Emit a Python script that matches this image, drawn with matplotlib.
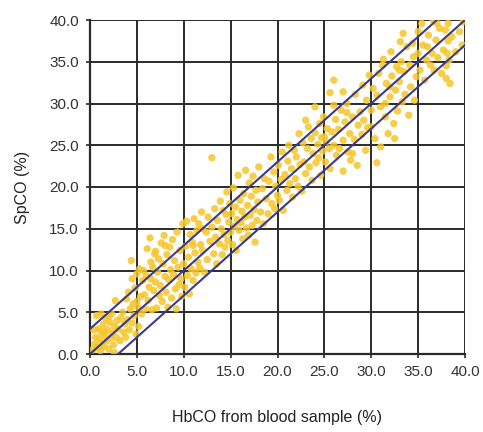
import matplotlib
matplotlib.use("Agg")
import matplotlib.pyplot as plt
import numpy as np

plt.rcParams['font.family'] = ['Liberation Sans', 'DejaVu Sans']

hbco = [
 0.3,0.5,0.6,0.8,0.9,1.0,1.1,1.2,1.3,1.4,1.5,1.6,1.7,1.8,1.9,2.0,2.1,2.2,2.3,2.4,2.5,2.6,2.7,2.8,2.9,3.0,0.7,1.2,2.0,1.5,0.4,2.6,
 3.2,3.3,3.5,3.6,3.7,3.9,4.0,4.1,4.2,4.3,4.4,4.5,4.6,4.7,4.8,4.9,5.0,5.1,5.2,5.3,5.4,5.5,5.6,5.7,5.8,5.9,6.0,3.8,4.5,5.0,
 6.1,6.2,6.3,6.4,6.5,6.6,6.7,6.8,6.9,7.0,7.1,7.2,7.3,7.4,7.5,7.6,7.7,7.8,7.9,8.0,8.1,8.2,8.3,8.4,8.5,8.6,8.7,8.8,8.9,9.0,9.1,9.2,9.3,9.4,9.5,9.6,9.7,9.8,9.9,10.0,6.5,7.0,8.0,
 10.1,10.2,10.3,10.4,10.5,10.6,10.7,10.8,10.9,11.0,11.1,11.2,11.3,11.4,11.5,11.6,11.7,11.8,11.9,12.0,12.2,12.4,12.5,12.6,12.8,13.0,13.0,13.2,13.3,13.4,13.5,13.6,13.8,13.9,14.0,14.1,14.2,14.3,14.4,14.5,14.6,14.7,14.8,14.9,15.0,12.0,11.0,
 15.1,15.2,15.3,15.4,15.5,15.6,15.7,15.8,15.9,16.0,16.1,16.2,16.3,16.4,16.5,16.6,16.7,16.8,16.9,17.0,17.1,17.2,17.3,17.4,17.5,17.6,17.7,17.8,17.9,18.0,18.2,18.4,18.5,18.6,18.8,19.0,19.1,19.3,19.4,19.6,19.7,19.8,20.0,
 20.1,20.2,20.4,20.5,20.6,20.8,21.0,21.1,21.2,21.3,21.5,21.6,21.8,21.9,22.0,22.2,22.3,22.4,22.6,22.7,22.8,23.0,23.0,23.2,23.3,23.4,23.6,23.7,23.8,24.0,24.0,24.1,24.3,24.4,24.5,24.6,24.7,24.8,24.9,25.0,
 25.1,25.2,25.3,25.5,25.6,25.6,25.8,26.0,26.0,26.2,26.3,26.5,26.6,26.8,27.0,27.0,27.2,27.4,27.4,27.5,27.7,27.8,28.0,28.2,28.3,28.5,28.6,28.8,29.0,29.1,29.2,29.4,29.5,29.6,29.8,30.0,30.0,28.0,26.0,27.0,
 30.2,30.4,30.6,30.6,30.8,31.0,31.0,31.2,31.3,31.5,31.6,31.8,32.0,32.1,32.2,32.4,32.5,32.6,32.7,32.8,33.0,33.1,33.2,33.3,33.4,33.5,33.6,33.8,34.0,34.1,34.2,34.4,34.5,34.6,34.8,35.0,35.0,31.5,32.0,33.0,
 35.2,35.4,35.5,35.7,35.9,36.1,36.3,36.5,36.6,36.7,36.9,37.1,37.3,37.5,37.7,37.9,38.0,38.0,38.1,38.2,38.2,38.3,38.4,38.6,39.0,39.4,39.7,39.8,37.0,36.0,
]
spco = [
 0.5,1.2,2.0,0.8,3.0,1.8,0.4,2.6,1.3,3.5,0.9,2.2,4.2,1.6,2.9,0.6,3.8,1.9,4.8,2.5,1.1,3.3,6.4,2.0,4.0,3.0,4.6,4.8,4.5,2.7,2.9,0.2,
 1.6,4.3,5.0,2.6,3.6,6.6,4.1,7.4,2.9,5.4,11.2,3.7,6.0,4.6,7.9,2.4,9.6,5.6,3.3,10.2,6.9,4.8,8.8,10.0,7.1,5.4,9.4,2.0,9.0,6.3,
 12.6,6.4,8.0,13.9,9.0,5.3,10.4,7.6,12.0,8.6,5.5,9.8,11.4,7.0,8.2,13.3,6.3,10.8,14.2,9.3,7.4,11.9,5.6,8.9,12.8,10.1,6.7,13.7,9.5,11.2,7.8,5.4,14.6,10.4,8.3,12.4,9.0,6.9,15.6,10.8,11.0,12.3,13.0,
 8.0,12.9,15.9,9.4,11.6,7.2,14.3,10.2,13.4,8.8,16.2,12.1,9.7,14.8,11.0,15.6,10.3,13.1,17.0,12.4,9.8,14.6,11.3,16.4,13.5,23.5,15.2,12.0,17.4,14.0,10.8,16.0,13.2,18.3,15.0,11.9,17.2,14.3,12.8,16.7,19.4,13.6,15.8,18.0,14.6,15.0,13.0,
 16.8,13.1,19.9,15.3,17.6,12.4,16.1,21.4,14.8,18.4,15.7,17.1,13.8,19.2,16.4,22.0,15.1,17.8,14.2,20.5,16.6,18.9,15.4,21.3,17.3,13.4,19.6,16.0,18.2,22.4,17.0,19.8,15.6,21.0,18.6,16.8,20.7,23.6,18.0,21.8,17.4,20.1,19.0,
 22.6,18.4,20.9,24.2,17.2,21.5,19.6,23.1,25.0,20.4,22.2,18.8,24.4,21.0,23.6,20.1,26.4,22.7,19.5,25.3,23.0,28.0,21.6,24.6,27.2,22.4,25.8,20.8,24.0,29.6,26.5,22.9,25.1,23.5,27.6,21.4,25.9,24.3,28.4,26.0,
 23.0,25.4,27.0,24.6,31.3,22.2,26.6,32.8,25.0,28.1,23.8,26.9,24.6,29.2,25.6,21.9,27.8,30.0,28.9,24.2,26.4,23.2,28.4,25.7,31.1,22.6,27.4,29.0,26.3,32.2,28.0,24.4,30.4,27.1,33.4,29.2,27.2,24.0,29.8,31.4,
 31.8,25.8,31.0,22.9,33.6,24.8,29.6,34.6,35.3,28.4,32.4,26.4,30.8,36.2,33.3,27.6,25.8,31.6,34.4,29.1,32.6,37.4,35.0,30.2,38.4,33.8,31.1,36.8,28.6,34.6,32.0,37.2,35.6,30.4,33.2,38.6,36.0,30.0,32.0,34.0,
 34.0,39.6,37.0,32.8,35.2,38.2,34.6,36.0,40.0,34.0,37.6,35.5,39.0,33.6,36.4,38.8,33.0,34.5,36.0,37.5,39.6,35.2,32.4,38.0,36.2,38.6,37.0,39.8,39.6,36.8,
]
offsets = [-3.0, 0.0, 3.0]
ticks = [0, 5, 10, 15, 20, 25, 30, 35, 40]
tick_labels = ["0.0", "5.0", "10.0", "15.0", "20.0", "25.0", "30.0", "35.0", "40.0"]

fig = plt.figure(figsize=(4.83, 4.32), dpi=100)
ax = fig.add_axes([90/483, 1-354/432, 375/483, 334/432])

ax.scatter(hbco, spco, s=28, color='#F5C62A', alpha=0.85, edgecolors='none', zorder=3)

xs = np.array([0.0, 40.0])
for off in offsets:
    ax.plot(xs, xs + off, color='#3C3A8E', lw=1.5, zorder=4)

ax.set_xlim(0, 40)
ax.set_ylim(0, 40)
ax.set_xticks(ticks)
ax.set_xticklabels(tick_labels)
ax.set_yticks(ticks)
ax.set_yticklabels(tick_labels)
ax.grid(True, color='#2a2a2a', lw=1.4, zorder=1)
ax.set_axisbelow(True)
for s in ['top', 'right']:
    ax.spines[s].set_visible(False)
for s in ['left', 'bottom']:
    ax.spines[s].set_color('#2a2a2a')
    ax.spines[s].set_linewidth(1.6)
ax.tick_params(axis='both', length=3, width=1.2, color='#2a2a2a', labelsize=11, labelcolor='#333333', pad=5)

ax.set_xlabel('HbCO from blood sample (%)', fontsize=11.5, color='#222222', labelpad=22)
ax.set_ylabel('SpCO (%)', fontsize=11.5, color='#222222', labelpad=14)

fig.savefig('out.png', dpi=100)
